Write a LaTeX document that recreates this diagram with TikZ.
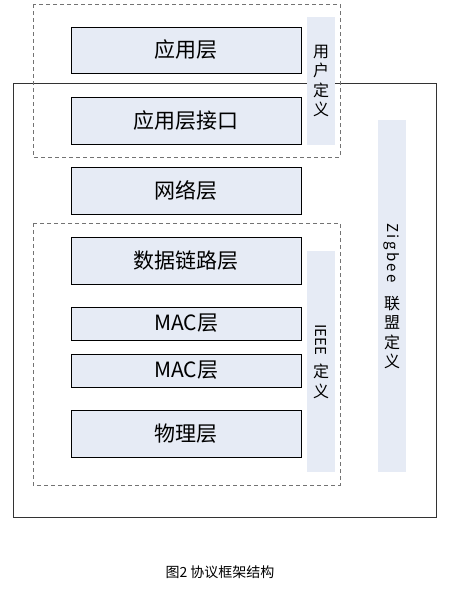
\documentclass[tikz,border=0pt]{standalone}
\usepackage{fontspec}
\setmainfont{Noto Sans CJK SC}
\usepackage{graphicx}
\usepackage{tikz}
\usetikzlibrary{positioning}
\definecolor{layerblue}{RGB}{230,235,245}
\tikzstyle{layer}=[draw=black,fill=layerblue,line width=1pt,minimum width=230pt,inner sep=0pt,font=\fontsize{21}{24}\selectfont]
\tikzstyle{strip}=[fill=layerblue,minimum width=28pt,inner sep=0pt,align=center,font=\fontsize{16}{19.5}\selectfont]
\tikzstyle{group}=[draw=black!55,line width=1pt,dash pattern=on 4pt off 3pt]

\begin{document}
\begin{tikzpicture}[x=1pt,y=-1pt]
\useasboundingbox (0,0) rectangle (470,589);
% outer frame
\draw[black!80,line width=1pt] (13,83) rectangle (436,517);
% side strips
\node [strip,minimum height=128pt] (user) at (321,81) {用\\户\\定\\义};
\node [strip,minimum height=221pt] (ieee) at (321,361.5) {\rotatebox{-90}{\fontsize{15}{15}\selectfont IEEE}\\[8pt]定\\义};
\node [strip,minimum height=352pt] (zigbee) at (392,296) {\rotatebox{-90}{\fontsize{15}{15}\selectfont Z\,i\,g\,b\,e\,e}\\[12pt]联\\盟\\定\\义};
% dashed groups
\draw[group] (33,4) rectangle (340,157);
\draw[group] (33,223) rectangle (340,485);
% layers
\node [layer,minimum height=46pt] (app) at (186,50) {应用层};
\node [layer,minimum height=47pt,below=23pt of app] (apsi) {应用层接口};
\node [layer,minimum height=47pt,below=22pt of apsi] (nwk) {网络层};
\node [layer,minimum height=47pt,below=22pt of nwk] (dll) {数据链路层};
\node [layer,minimum height=33pt,below=22pt of dll] (mac1) {MAC层};
\node [layer,minimum height=33pt,below=13pt of mac1] (mac2) {MAC层};
\node [layer,minimum height=47pt,below=22pt of mac2] (phy) {物理层};
% caption
\node (caption) at (220,572) {\fontsize{14}{16}\selectfont 图2 协议框架结构};
\end{tikzpicture}
\end{document}
